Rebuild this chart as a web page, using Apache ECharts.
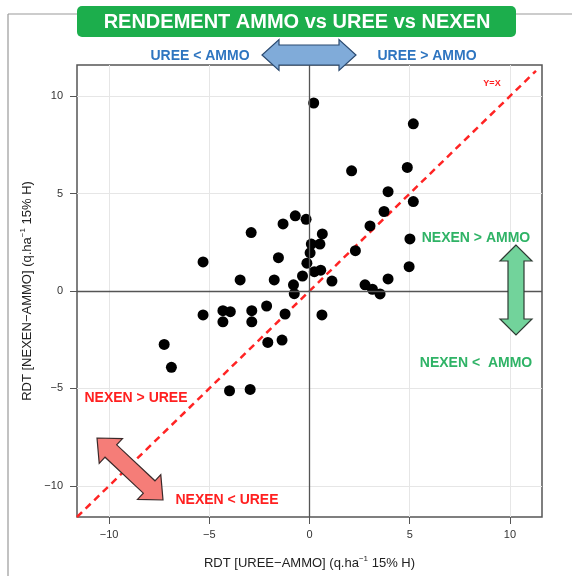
<!DOCTYPE html>
<html>
<head>
<meta charset="utf-8">
<script src="https://cdn.jsdelivr.net/npm/echarts@6/dist/echarts.min.js"></script>
<style>
    html, body { margin: 0; padding: 0; background: #fff; }
    #main { width: 572px; height: 576px; }
</style>
</head>
<body>
<div id="main"></div>
<script>
// écarts de rendement par essai (q/ha, 15% H)
var ureeMinusAmmo = [0.21, 5.18, 2.1, 4.88, 3.92, 5.18, 3.72, -0.71, -0.17, -1.32, 3.02, -2.91, 0.64, 5.01, 0.09, 0.52, 2.29, 0.03, -1.55, -5.31, -0.13, 4.97, 0.24, 0.56, -0.35, -3.46, -1.76, 3.92, 1.12, -0.8, 2.77, 3.14, -0.76, 3.52, -2.14, -4.32, -3.95, -2.88, -1.22, -5.31, 0.62, -4.32, -2.88, -7.25, -6.89, -2.08, -1.37, -3.99, -2.96];
var nexenMinusAmmo = [9.65, 8.58, 6.17, 6.34, 5.1, 4.59, 4.08, 3.86, 3.68, 3.44, 3.34, 3.0, 2.93, 2.67, 2.41, 2.41, 2.07, 1.96, 1.71, 1.49, 1.43, 1.25, 0.99, 1.07, 0.77, 0.57, 0.57, 0.62, 0.51, 0.32, 0.32, 0.09, -0.14, -0.15, -0.77, -1.01, -1.06, -1.01, -1.18, -1.23, -1.23, -1.58, -1.58, -2.74, -3.92, -2.64, -2.52, -5.12, -5.05];
var tickValues = [-10, -5, 0, 5, 10];
var axisMin = -11.6, axisMax = 11.6;
var lineYX = [-11.6, 11.3];   // bornes de la droite y = x

var chart = echarts.init(document.getElementById('main'), null, {renderer: 'canvas'});

var points = [];
for (var i = 0; i < ureeMinusAmmo.length; i++) {
    points.push([ureeMinusAmmo[i], nexenMinusAmmo[i]]);
}

// flèche double : polygone entre deux points
function arrowPts(x1, y1, x2, y2, sh, hh, hl) {
    var dx = x2 - x1, dy = y2 - y1;
    var L = Math.sqrt(dx * dx + dy * dy);
    var ux = dx / L, uy = dy / L, nx = -uy, ny = ux;
    function p(t, s) { return [x1 + ux * t + nx * s, y1 + uy * t + ny * s]; }
    return [p(0, 0), p(hl, hh), p(hl, sh), p(L - hl, sh), p(L - hl, hh), p(L, 0),
            p(L - hl, -hh), p(L - hl, -sh), p(hl, -sh), p(hl, -hh)];
}

var font = 'Liberation Sans, Arial, sans-serif';
var minusFmt = function (v) { return String(v).replace('-', '\u2212'); };

function label(txt, x, y, color, size) {
    return {
        type: 'text', x: x, y: y, z: 20,
        style: {
            text: txt, fill: color, font: 'bold ' + (size || 14) + 'px ' + font,
            align: 'center', verticalAlign: 'middle'
        }
    };
}

var option = {
    animation: false,
    grid: {
        left: 77, right: 30, top: 65, bottom: 59,
        show: true,
        borderColor: '#555',
        borderWidth: 1.5
    },
    xAxis: {
        type: 'value',
        min: axisMin, max: axisMax,
        name: 'RDT [UREE\u2212AMMO] (q.ha{sup|\u22121} 15% H)',
        nameLocation: 'middle',
        nameGap: 38,
        nameTextStyle: {
            fontSize: 13, color: '#222', fontFamily: font,
            rich: {sup: {fontSize: 8, color: '#222', fontFamily: font, padding: [0, 0, 8, 0]}}
        },
        axisLine: {show: false, onZero: false},
        axisTick: {show: true, length: 7, customValues: tickValues, lineStyle: {color: '#555'}},
        axisLabel: {customValues: tickValues, margin: 12, fontSize: 11, color: '#333', fontFamily: font, formatter: minusFmt},
        splitLine: {show: true, lineStyle: {color: '#e6e6e6', width: 1}}
    },
    yAxis: {
        type: 'value',
        min: axisMin, max: axisMax,
        name: 'RDT [NEXEN\u2212AMMO] (q.ha{sup|\u22121} 15% H)',
        nameLocation: 'middle',
        nameGap: 38,
        nameTextStyle: {
            fontSize: 13, color: '#222', fontFamily: font,
            rich: {sup: {fontSize: 8, color: '#222', fontFamily: font, padding: [0, 0, 8, 0]}}
        },
        axisLine: {show: false, onZero: false},
        axisTick: {show: true, length: 7, customValues: tickValues, lineStyle: {color: '#555'}},
        axisLabel: {customValues: tickValues, margin: 14, fontSize: 11, color: '#333', fontFamily: font, formatter: minusFmt},
        splitLine: {show: true, lineStyle: {color: '#e6e6e6', width: 1}}
    },
    series: [
        {
            // axes du zéro
            type: 'line',
            data: [],
            z: 1,
            markLine: {
                silent: true,
                symbol: 'none',
                label: {show: false},
                lineStyle: {color: '#555', width: 1.3, type: 'solid'},
                data: [{xAxis: 0}, {yAxis: 0}]
            }
        },
        {
            type: 'line',
            data: [[lineYX[0], lineYX[0]], [lineYX[1], lineYX[1]]],
            symbol: 'none',
            z: 2,
            lineStyle: {color: '#ff2424', width: 2.5, type: [7, 5]}
        },
        {
            type: 'scatter',
            data: points,
            symbolSize: 11,
            z: 3,
            itemStyle: {color: '#000', opacity: 1}
        }
    ],
    graphic: [
        // cadre
        {type: 'line', shape: {x1: 8, y1: 14, x2: 572, y2: 14}, style: {stroke: '#999', lineWidth: 1.2}, z: 5},
        {type: 'line', shape: {x1: 8, y1: 14, x2: 8, y2: 576}, style: {stroke: '#999', lineWidth: 1.2}, z: 5},
        // titre
        {type: 'rect', shape: {x: 77, y: 6, width: 439, height: 31, r: 5}, style: {fill: '#1cae4c'}, z: 10},
        {type: 'text', x: 297, y: 22, z: 11, style: {text: 'RENDEMENT AMMO vs UREE vs NEXEN', fill: '#fff',
            font: 'bold 20px ' + font, align: 'center', verticalAlign: 'middle'}},
        // flèches
        {type: 'polygon', shape: {points: arrowPts(262, 55, 356, 55, 10, 15.5, 17)},
            style: {fill: '#80abd9', stroke: '#2b4a70', lineWidth: 1.2}, z: 12},
        {type: 'polygon', shape: {points: arrowPts(516, 245, 516, 335, 8, 16, 16)},
            style: {fill: '#72d39b', stroke: '#2e3b33', lineWidth: 1.2}, z: 12},
        {type: 'polygon', shape: {points: arrowPts(97, 438, 163, 500, 8.5, 17, 19)},
            style: {fill: '#f57d78', stroke: '#3a2a2a', lineWidth: 1.2}, z: 12},
        label('UREE < AMMO', 200, 56, '#2e75c0'),
        label('UREE > AMMO', 427, 56, '#2e75c0'),
        label('NEXEN > AMMO', 476, 238, '#2fb366'),
        label('NEXEN <  AMMO', 476, 363, '#2fb366'),
        label('NEXEN > UREE', 136, 398, '#ff2020'),
        label('NEXEN < UREE', 227, 500, '#ff2020'),
        label('Y=X', 492, 84, '#ff2020', 9)
    ]
};

chart.setOption(option);
window.addEventListener('resize', function () {
    chart.resize();
});
</script>
</body>
</html>
